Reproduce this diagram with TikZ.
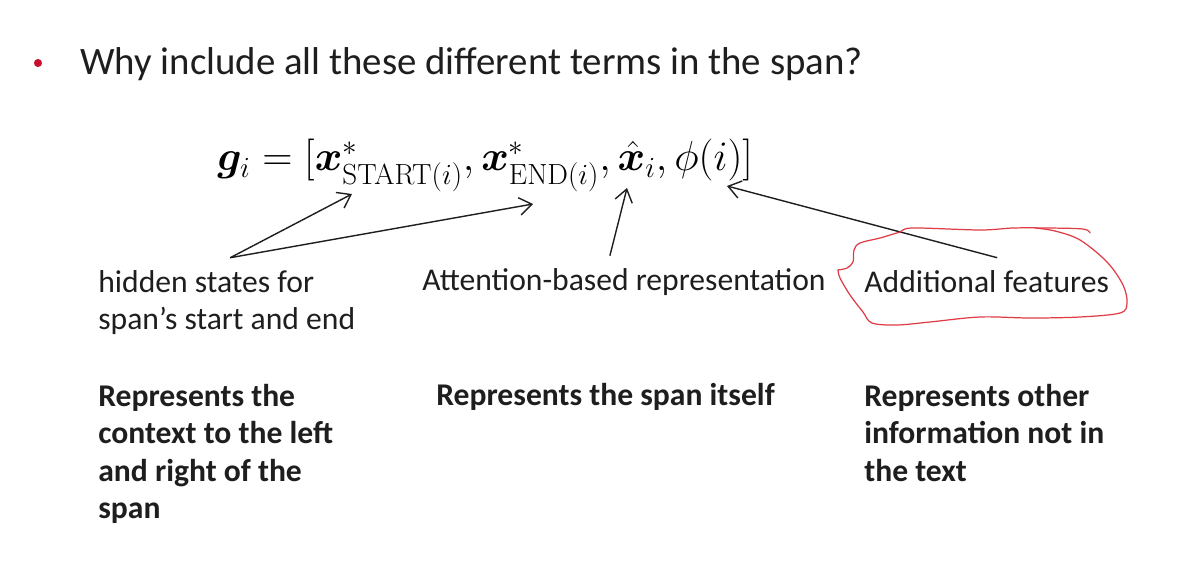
\documentclass[tikz,border=0pt]{standalone}
\usepackage{amsmath,bm}
\usepackage[no-math]{fontspec}
\setmainfont{Carlito}
\usetikzlibrary{positioning, arrows.meta}
\definecolor{bulletred}{HTML}{C8102E}
\definecolor{penred}{HTML}{E03C46}
\definecolor{ink}{HTML}{1E1E1E}
\tikzset{
  label text/.style={anchor=north west, align=left, inner sep=0pt, text=ink,
    font=\fontsize{18}{21.3}\selectfont},
  bold text/.style={label text, font=\fontsize{18}{21.3}\selectfont\bfseries},
  pointer/.style={-{Straight Barb[length=7pt, width=10pt]}, ink, line width=0.8pt},
  scribble/.style={penred, line width=0.7pt, line cap=round, line join=round},
}

\begin{document}
\begin{tikzpicture}[x=0.02cm, y=-0.02cm]
        \useasboundingbox (0,0) rectangle (1184,584);
        \fill[white] (0,0) rectangle (1184,584);
        % Frage
        \fill[bulletred] (38,63) circle (2.3pt);
        \node[anchor=base west, inner sep=0pt, text=ink, font=\fontsize{22.1}{28}\selectfont]
          (question) at (80,75) {Why include all these different terms in the span?};
        % Formel
        \node[anchor=base west, inner sep=0pt, scale=0.96, font=\fontsize{25}{30}\selectfont] (formula) at (217,171)
          {$\bm{g}_i = [\bm{x}^*_{\mathrm{START}(i)}, \bm{x}^*_{\mathrm{END}(i)}, \hat{\bm{x}}_i, \phi(i)]$};
        \coordinate (startTip) at (352,194);
        \coordinate (endTip) at (533,204);
        \coordinate (hatTip) at (627,188);
        \coordinate (phiTip) at (727,186);
        % Beschriftungen
        \node[label text] (hidden) at (98,270) {hidden states for\\span’s start and end};
        \node[label text] (attention) at (422,268) {Attention-based representation};
        \node[label text] (additional) at (864,270) {Additional features};
        \draw[pointer] ([xshift=2pt, yshift=7pt]hidden.north) -- (startTip);
        \draw[pointer] ([xshift=2pt, yshift=7pt]hidden.north) -- (endTip);
        \draw[pointer] ([xshift=-8pt, yshift=7pt]attention.north) -- (hatTip);
        \draw[pointer] ([xshift=6pt, yshift=7pt]additional.north) -- (phiTip);
        % Kringel
        \draw[scribble] plot[smooth, tension=0.55] coordinates
          {(1090,233) (1083,229) (1047,228) (1013,228) (980,230) (913,228) (900,232) (880,238)
           (860,243) (854,250) (853,262) (847,268) (838,270)};
        \draw[scribble] plot[smooth, tension=0.55] coordinates
          {(838,270) (840,278) (850,295) (863,312) (872,323) (897,325) (930,322) (980,317)
           (1030,318) (1080,317) (1120,313) (1127,303) (1123,285) (1107,262) (1080,240)
           (1055,231) (1035,228)};
        % Erklaerungen
        \node[bold text] (context) at (98,384) {Represents the\\context to the left\\and right of the\\span};
        \node[bold text] (itself) at (436,383) {Represents the span itself};
        \node[bold text] (other) at (864,384) {Represents other\\information not in\\the text};
      \end{tikzpicture}
\end{document}
